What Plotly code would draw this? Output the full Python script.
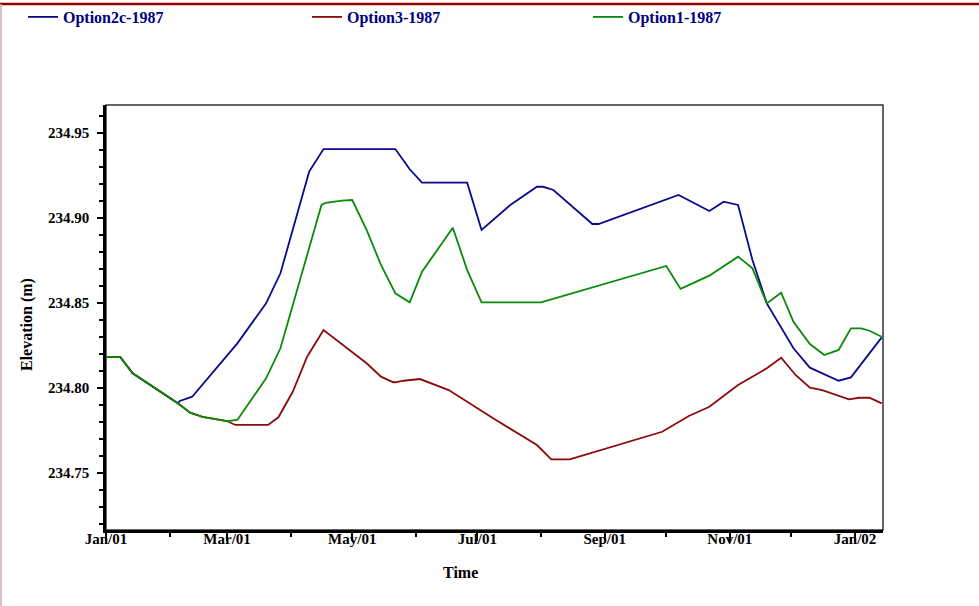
import plotly.graph_objects as go

# ---------------- data (axis uses a generic year 01/02) ----------------
opt2c_dates = ["2001-01-01", "2001-01-08", "2001-01-14", "2001-02-05", "2001-02-06", "2001-02-12",
               "2001-03-06", "2001-03-20", "2001-03-27", "2001-04-10", "2001-04-17", "2001-05-22",
               "2001-05-29", "2001-06-04", "2001-06-26", "2001-07-03", "2001-07-17", "2001-07-30",
               "2001-08-02", "2001-08-07", "2001-08-26", "2001-08-29", "2001-10-07", "2001-10-22",
               "2001-10-29", "2001-11-05", "2001-11-12", "2001-11-19", "2001-12-02", "2001-12-10",
               "2001-12-24", "2001-12-30", "2002-01-14"]
opt2c_vals = [234.818, 234.818, 234.8085, 234.7908, 234.7922, 234.7947,
              234.8261, 234.8496, 234.8673, 234.9271, 234.9404, 234.9404,
              234.9285, 234.9206, 234.9206, 234.8928, 234.9075, 234.9182,
              234.9182, 234.9163, 234.8963, 234.8963, 234.9134, 234.9039,
              234.9094, 234.9075, 234.8751, 234.8496, 234.8232, 234.8118,
              234.8041, 234.8061, 234.8296]

opt3_dates = ["2001-01-01", "2001-01-08", "2001-01-14", "2001-02-05", "2001-02-11", "2001-02-17",
              "2001-03-01", "2001-03-05", "2001-03-21", "2001-03-26", "2001-04-02", "2001-04-09",
              "2001-04-17", "2001-05-08", "2001-05-15", "2001-05-21", "2001-05-22", "2001-05-26",
              "2001-06-03", "2001-06-17", "2001-07-10", "2001-07-30", "2001-08-06", "2001-08-15",
              "2001-09-29", "2001-10-12", "2001-10-22", "2001-11-05", "2001-11-19", "2001-11-26",
              "2001-12-03", "2001-12-10", "2001-12-16", "2001-12-29", "2002-01-03", "2002-01-08",
              "2002-01-14"]
opt3_vals = [234.818, 234.818, 234.8085, 234.7908, 234.7853, 234.7829,
             234.7804, 234.7781, 234.7781, 234.7826, 234.7976, 234.8182,
             234.8339, 234.8144, 234.8065, 234.8032, 234.8032, 234.8041,
             234.8051, 234.7986, 234.7810, 234.7663, 234.7579, 234.7579,
             234.7741, 234.7834, 234.7888, 234.8016, 234.8114, 234.8176,
             234.8075, 234.8000, 234.7986, 234.7932, 234.7941, 234.7941,
             234.7908]

opt1_dates = ["2001-01-01", "2001-01-08", "2001-01-14", "2001-02-05", "2001-02-11", "2001-02-17",
              "2001-03-01", "2001-03-06", "2001-03-20", "2001-03-27", "2001-04-16", "2001-04-18",
              "2001-04-26", "2001-05-01", "2001-05-08", "2001-05-15", "2001-05-22", "2001-05-29",
              "2001-06-04", "2001-06-19", "2001-06-26", "2001-07-03", "2001-08-01", "2001-10-01",
              "2001-10-08", "2001-10-22", "2001-11-05", "2001-11-12", "2001-11-19", "2001-11-26",
              "2001-12-02", "2001-12-10", "2001-12-17", "2001-12-24", "2001-12-30", "2002-01-04",
              "2002-01-08", "2002-01-14"]
opt1_vals = [234.818, 234.818, 234.8085, 234.7908, 234.7853, 234.7829,
             234.7804, 234.7810, 234.8055, 234.8232, 234.9075, 234.9088,
             234.9100, 234.9104, 234.8928, 234.8722, 234.8555, 234.8502,
             234.8682, 234.8941, 234.8692, 234.8502, 234.8502, 234.8716,
             234.8581, 234.8659, 234.8771, 234.8702, 234.8496, 234.8559,
             234.8388, 234.8257, 234.8192, 234.8222, 234.8349, 234.8349,
             234.8335, 234.8300]

series_names = ["Option2c-1987", "Option3-1987", "Option1-1987"]
series_colors = ["#0a0a8c", "#8c0a0a", "#0a8a0a"]

x_tickvals = ["2001-01-01", "2001-03-01", "2001-05-01", "2001-07-01",
              "2001-09-01", "2001-11-01", "2002-01-01"]
y_tickvals = [234.75, 234.80, 234.85, 234.90, 234.95]

x_title = "Time"
y_title = "Elevation (m)"

# ---------------- figure ----------------
W, H = 979, 606
L, R, T, B = 106, 883, 105, 530
PW, PH = R - L, B - T
FONT = "Liberation Serif, Times New Roman, serif"

legend_ids = ["legend", "legend2", "legend3"]
legend_text_x = [63, 347, 628]   # pixel where legend text starts

fig = go.Figure()
for name, xs, ys, col, lid in zip(series_names,
                                  [opt2c_dates, opt3_dates, opt1_dates],
                                  [opt2c_vals, opt3_vals, opt1_vals],
                                  series_colors, legend_ids):
    fig.add_trace(go.Scatter(x=xs, y=ys, mode="lines", name=name, legend=lid,
                             line=dict(color=col, width=1.8)))

legend_common = dict(orientation="h", xref="container", yref="container",
                     xanchor="left", yanchor="middle", y=1 - 17 / H,
                     font=dict(family=FONT, size=16, color="#000080", weight="bold"),
                     bgcolor="rgba(0,0,0,0)", borderwidth=0)

fig.update_layout(
    width=W, height=H,
    margin=dict(l=L, r=W - R, t=T, b=H - B, pad=0, autoexpand=False),
    paper_bgcolor="white", plot_bgcolor="white",
    font=dict(family=FONT, size=15, color="black"),
    showlegend=True,
    legend=dict(x=(legend_text_x[0] - 40) / W, **legend_common),
    legend2=dict(x=(legend_text_x[1] - 40) / W, **legend_common),
    legend3=dict(x=(legend_text_x[2] - 40) / W, **legend_common),
)

fig.update_xaxes(
    type="date", range=["2001-01-01", "2002-01-14 15:00"], automargin=False,
    tickmode="array", tickvals=x_tickvals, tickformat="%b/%y",
    ticks="outside", ticklen=8, tickwidth=1.5, tickcolor="black",
    ticklabelstandoff=-15,
    tickfont=dict(family=FONT, size=15, color="black", weight="bold"),
    showline=True, linewidth=2.5, linecolor="black", mirror=False,
    showgrid=False, zeroline=False,
    minor=dict(dtick="M1", tick0="2001-01-01", ticks="outside", ticklen=4,
               tickwidth=1.5, tickcolor="black", showgrid=False),
)
fig.update_yaxes(
    range=[234.7163, 234.9663], automargin=False,
    tickmode="array", tickvals=y_tickvals, tickformat=".2f",
    ticks="outside", ticklen=6, tickwidth=2, tickcolor="black",
    ticklabelstandoff=5,
    tickfont=dict(family=FONT, size=15, color="black", weight="bold"),
    showline=True, linewidth=2.5, linecolor="black", mirror=False,
    showgrid=False, zeroline=False,
    minor=dict(dtick=0.01, tick0=234.70, ticks="outside", ticklen=4,
               tickwidth=2, tickcolor="black", showgrid=False),
)

# thin frame on top/right of plot area
fig.add_shape(type="rect", xref="paper", yref="paper", x0=0, x1=1, y0=0, y1=1,
              line=dict(color="#333333", width=1.5), layer="below")

# page border: dark red top line, light rose left line
top_y = 1 + (T - 4) / PH
fig.add_shape(type="line", xref="paper", yref="paper", x0=-L / PW, x1=(W - L) / PW,
              y0=top_y, y1=top_y, line=dict(color="#990000", width=2.5))
fig.add_shape(type="line", xref="paper", yref="paper", x0=-(L - 1) / PW, x1=-(L - 1) / PW,
              y0=-(H - B) / PH, y1=top_y, line=dict(color="#d8a8a8", width=1.5))

# axis titles
fig.add_annotation(text=x_title, xref="paper", yref="paper",
                   x=(460 - L) / PW, y=(B - 572) / PH,
                   showarrow=False, xanchor="center", yanchor="middle",
                   font=dict(family=FONT, size=16, color="black", weight="bold"))
fig.add_annotation(text=y_title, xref="paper", yref="paper",
                   x=(27 - L) / PW, y=(B - 325) / PH, textangle=-90,
                   showarrow=False, xanchor="center", yanchor="middle",
                   font=dict(family=FONT, size=16, color="black", weight="bold"))

fig.write_html("out.html", config={"displayModeBar": False},
               post_script="document.body.style.margin='0';document.body.style.padding='0';")
